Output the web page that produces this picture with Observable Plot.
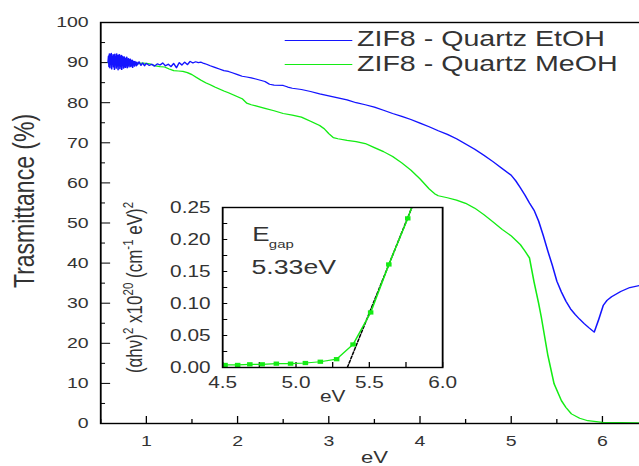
<!DOCTYPE html>
<html>
<head>
<meta charset="utf-8">
<script src="https://cdn.jsdelivr.net/npm/d3@7"></script>
<script src="https://cdn.jsdelivr.net/npm/@observablehq/plot@0.6"></script>
<style>
html, body { margin: 0; padding: 0; overflow: hidden; background: #fff; }
#stage { position: relative; width: 500px; height: 466px; transform: scaleX(1.3); transform-origin: 0 0;
  font-family: "Liberation Sans", Arial, Helvetica, sans-serif; color: #333; }
#stage > svg { position: absolute; overflow: visible; }
.legline { position: absolute; height: 0; }
.legtext { position: absolute; font-size: 22px; line-height: 1; white-space: nowrap; color: #333; }
</style>
</head>
<body>
<div id="stage"></div>
<script>
const FONT = '"Liberation Sans", Arial, Helvetica, sans-serif';

// ---- Main chart data (eV, Transmittance %) ----
const blueX = [0.580,0.585,0.590,0.595,0.600,0.605,0.610,0.615,0.620,0.625,0.630,0.635,0.640,0.645,0.650,0.655,0.660,0.665,0.670,0.675,
  0.680,0.685,0.690,0.695,0.700,0.705,0.710,0.715,0.720,0.725,0.730,0.735,0.740,0.745,0.750,0.755,0.760,0.765,0.770,0.775,
  0.780,0.785,0.790,0.795,0.800,0.805,0.810,0.815,0.820,0.825,0.830,0.835,0.840,0.845,0.850,0.855,0.860,0.865,0.870,0.875,
  0.880,0.885,0.890,0.895,0.900,
  0.92,0.94,0.96,0.98,1.00,
  1.03,1.06,1.09,1.12,1.15,1.18,1.21,1.24,1.27,1.30,1.33,1.36,1.39,1.42,1.45,1.48,1.51,1.54,1.57,1.60,1.63,1.66,
  1.70,1.75,1.80,1.85,1.90,1.95,2.00,2.05,2.10,2.15,2.20,2.25,2.30,2.35,
  2.40,2.50,2.55,2.60,
  2.70,2.80,2.90,3.00,3.10,3.20,3.30,3.40,3.50,3.60,3.70,3.80,3.90,4.00,4.10,4.20,4.30,4.40,4.50,4.60,4.70,4.80,4.90,5.00,
  5.05,5.10,
  5.15,5.20,5.25,5.30,5.35,5.40,5.45,5.50,5.55,5.60,5.65,5.70,5.75,5.80,5.85,
  5.91,5.96,6.01,6.05,6.10,6.20,6.30,6.41,6.50];
const blueY = [90.1,91.6,89.0,92.2,88.7,91.9,89.6,92.3,88.4,91.4,90.0,92.0,88.9,91.8,88.3,92.1,89.4,91.5,88.6,92.2,
  89.1,91.7,88.2,91.9,89.5,92.0,88.5,91.3,89.0,91.8,88.3,91.6,89.7,91.1,88.6,91.5,88.9,91.2,88.8,90.9,
  89.2,91.4,88.7,90.8,89.3,91.0,88.9,90.7,89.4,90.9,89.0,90.5,89.3,90.6,88.8,90.4,89.5,90.2,89.1,90.3,
  89.6,90.0,89.2,90.1,89.4,
  90.2,89.3,89.9,89.2,89.8,
  89.3,89.6,89.1,89.7,89.4,89.9,89.2,89.6,89.0,89.8,88.7,90.0,89.4,90.1,89.5,90.3,89.9,90.2,90.0,90.1,89.8,89.6,
  89.2,88.8,88.4,88.0,87.8,87.4,87.0,86.6,86.4,86.2,85.9,85.6,85.3,84.6,
  84.4,84.3,83.9,83.6,
  83.3,82.8,82.2,81.7,81.2,80.7,80.0,79.5,78.9,78.1,77.3,76.6,75.8,74.9,74.0,73.0,72.1,71.0,69.7,68.4,66.9,65.3,63.6,61.9,
  60.5,58.8,
  57.0,55.0,53.2,50.5,47.0,43.1,39.5,35.5,32.8,30.5,28.6,27.2,26.0,24.9,23.9,
  22.8,26.0,29.5,30.7,31.6,32.9,33.9,34.4,34.8];

const greenX = [0.58,0.62,0.66,0.70,
  0.75,0.80,0.85,0.90,0.95,1.00,1.05,1.10,1.15,1.20,1.25,1.30,1.35,1.40,1.45,1.50,1.55,1.60,1.65,1.70,1.75,1.80,1.85,1.90,1.95,2.00,2.05,2.10,2.15,2.20,
  2.30,2.40,2.50,2.60,2.70,2.80,2.90,
  2.95,3.00,3.05,3.10,
  3.20,3.30,3.40,3.50,3.60,3.70,3.80,3.90,4.00,4.10,
  4.16,
  4.20,4.30,4.40,4.50,4.60,4.70,4.80,4.90,5.00,5.10,
  5.15,5.20,5.25,5.30,5.33,
  5.40,5.47,5.55,5.60,5.66,5.75,5.84,
  6.00,6.20,6.50];
const greenY = [90.0,90.2,89.8,90.3,
  89.9,89.8,90.1,89.7,89.9,89.8,89.6,89.2,89.0,88.9,88.4,88.0,87.9,87.8,87.5,87.0,86.3,85.6,85.0,84.5,83.9,83.4,82.9,82.5,82.0,81.5,81.0,79.9,79.5,79.2,
  78.6,78.0,77.3,76.9,76.4,75.4,74.3,
  73.5,72.3,71.3,71.0,
  70.6,70.3,69.8,68.8,67.8,66.6,65.0,63.2,61.0,58.5,
  57.3,
  56.8,56.3,55.7,54.9,53.7,52.1,50.3,48.4,46.8,44.6,
  43.0,41.3,35.3,30.0,26.5,
  17.2,9.9,5.7,4.0,2.4,1.3,0.7,
  0.3,0.2,0.1];

const seriesNames = ["ZIF8 - Quartz EtOH", "ZIF8 - Quartz MeOH"];
const seriesColors = ["#1414ff", "#14ec14"];

const xTicks = [1, 2, 3, 4, 5, 6];
const xMinor = [0.5, 1.5, 2.5, 3.5, 4.5, 5.5, 6.5];
const yTicks = [0, 10, 20, 30, 40, 50, 60, 70, 80, 90, 100];
const yMinor = [5, 15, 25, 35, 45, 55, 65, 75, 85, 95];
const xTitle = "eV";
const yTitle = "Trasmittance (%)";

// ---- Inset data: (alpha h nu)^2 vs eV ----
const insetX = [4.516, 4.602, 4.685, 4.769, 4.866, 4.963, 5.064, 5.166, 5.277, 5.389, 5.509, 5.633, 5.762, 5.88];
const insetY = [0.004, 0.004, 0.005, 0.005, 0.006, 0.006, 0.007, 0.009, 0.013, 0.036, 0.086, 0.161, 0.233, 0.31];
const fitX = [5.35, 5.79];
const fitY = [0, 0.25];
const insetXTicks = [4.5, 5.0, 5.5, 6.0];
const insetXMinor = [4.75, 5.25, 5.75];
const insetYTicks = [0, 0.05, 0.10, 0.15, 0.20, 0.25];
const insetYMinor = [0.025, 0.075, 0.125, 0.175, 0.225];
const insetYLabelParts = [["(αhν)", 0], ["2", 1], [" x10", 0], ["20", 1], [" (cm", 0], ["-1", 1], [" eV)", 0], ["2", 1]];
const gapLabel = "E";
const gapSub = "gap";
const gapValue = "5.33eV";

const blue = d3.zip(blueX, blueY).map(([x, y]) => ({x, y}));
const green = d3.zip(greenX, greenY).map(([x, y]) => ({x, y}));
const pts = d3.zip(insetX, insetY).map(([x, y]) => ({x, y}));
const fit = d3.zip(fitX, fitY).map(([x, y]) => ({x, y}));

const stage = document.getElementById("stage");
const blank = () => "";

const main = Plot.plot({
  width: 500, height: 466,
  marginLeft: 77, marginRight: 2, marginTop: 22, marginBottom: 43,
  style: {fontFamily: FONT, fontSize: "15px", color: "#333", background: "transparent", overflow: "visible"},
  x: {domain: [0.5, 6.5]},
  y: {domain: [0, 100]},
  marks: [
    Plot.axisY(yTicks, {tickSize: 7.7, dx: 7.7, tickFormat: blank, stroke: "black", label: null}),
    Plot.axisY(yMinor, {tickSize: 3.8, dx: 3.8, tickFormat: blank, stroke: "black", label: null}),
    Plot.axisY(yTicks, {tickSize: 0, tickPadding: 9.3, fontSize: 15, fill: "#333", label: null}),
    Plot.axisX(xTicks, {tickSize: 7, dy: -7, tickFormat: blank, stroke: "black", label: null}),
    Plot.axisX(xMinor, {tickSize: 4, dy: -4, tickFormat: blank, stroke: "black", label: null}),
    Plot.axisX(xTicks, {tickSize: 0, tickPadding: 12, fontSize: 15, fill: "#333", label: null}),
    Plot.line(green, {x: "x", y: "y", stroke: seriesColors[1], strokeWidth: 1.2, clip: true}),
    Plot.line(blue, {x: "x", y: "y", stroke: seriesColors[0], strokeWidth: 1.2, clip: true}),
    Plot.frame({stroke: "black", strokeWidth: 1.4}),
    Plot.text([xTitle], {frameAnchor: "bottom", dy: 34, fontSize: 17, fill: "#333", textAnchor: "middle", lineAnchor: "middle"}),
    Plot.text([yTitle], {frameAnchor: "left", rotate: -90, dx: -59, dy: -22, fontSize: 23, fill: "#333", textAnchor: "middle", lineAnchor: "middle"})
  ]
});
main.style.left = "0px";
main.style.top = "0px";
stage.appendChild(main);

const INSET_PH = "INSET_Y_LABEL";
const inset = Plot.plot({
  width: 250, height: 220,
  marginLeft: 75.8, marginRight: 5, marginTop: 17, marginBottom: 43,
  style: {fontFamily: FONT, fontSize: "16px", color: "#333", background: "transparent", overflow: "visible"},
  x: {domain: [4.5, 6.0]},
  y: {domain: [0, 0.25]},
  marks: [
    Plot.axisY(insetYTicks, {tickSize: 4, dx: 4, tickFormat: blank, stroke: "black", label: null}),
    Plot.axisY(insetYMinor, {tickSize: 4, dx: 4, tickFormat: blank, stroke: "black", label: null}),
    Plot.axisY(insetYTicks, {tickSize: 0, tickPadding: 9.3, fontSize: 16, fill: "#333", tickFormat: d3.format(".2f"), label: null}),
    Plot.axisX(insetXTicks, {tickSize: 5, dy: -5, tickFormat: blank, stroke: "black", label: null}),
    Plot.axisX(insetXMinor, {tickSize: 5, dy: -5, tickFormat: blank, stroke: "black", label: null}),
    Plot.axisX(insetXTicks, {tickSize: 0, tickPadding: 9, fontSize: 16, fill: "#333", tickFormat: d3.format(".1f"), label: null}),
    Plot.line(fit, {x: "x", y: "y", stroke: "black", strokeWidth: 1.2, strokeDasharray: "3,1.5", clip: true}),
    Plot.line(pts, {x: "x", y: "y", stroke: seriesColors[1], strokeWidth: 1.2, clip: true}),
    Plot.dot(pts, {x: "x", y: "y", symbol: "square", r: 2.4, fill: seriesColors[1], stroke: "none", clip: true}),
    Plot.frame({stroke: "black", strokeWidth: 1.4}),
    Plot.text([xTitle], {frameAnchor: "bottom", dy: 29, fontSize: 16, fill: "#333", textAnchor: "middle", lineAnchor: "middle"}),
    Plot.text([gapLabel], {frameAnchor: "top-left", dx: 22.8, dy: 33.7, fontSize: 20, fill: "#333", textAnchor: "start", lineAnchor: "bottom"}),
    Plot.text([gapSub], {frameAnchor: "top-left", dx: 35.5, dy: 40.5, fontSize: 11.5, fill: "#333", textAnchor: "start", lineAnchor: "bottom"}),
    Plot.text([gapValue], {frameAnchor: "top-left", dx: 22.2, dy: 66.3, fontSize: 20.5, fill: "#333", textAnchor: "start", lineAnchor: "bottom"}),
    Plot.text([INSET_PH], {frameAnchor: "left", rotate: -90, dx: -67.8, fontSize: 17, fill: "#333", textAnchor: "middle", lineAnchor: "middle"})
  ]
});
inset.style.left = "95px";
inset.style.top = "190px";
stage.appendChild(inset);

// rebuild inset y-label with real superscripts
inset.querySelectorAll("text").forEach(t => {
  if (t.textContent === INSET_PH) {
    t.textContent = "";
    const ns = "http://www.w3.org/2000/svg";
    let raised = false;
    insetYLabelParts.forEach(([str, sup]) => {
      const ts = document.createElementNS(ns, "tspan");
      ts.textContent = str;
      if (sup) { ts.setAttribute("font-size", "11.5"); ts.setAttribute("dy", "-6.5"); raised = true; }
      else if (raised) { ts.setAttribute("dy", "6.5"); raised = false; }
      t.appendChild(ts);
    });
  }
});

// legend
const legTop = [39.5, 64];
const textTop = [28.2, 53.2];
seriesNames.forEach((name, i) => {
  const ln = document.createElement("div");
  ln.className = "legline";
  ln.style.left = "219px"; ln.style.width = "52px"; ln.style.top = legTop[i] + "px";
  ln.style.borderTop = `1.2px solid ${seriesColors[i]}`;
  stage.appendChild(ln);
  const tx = document.createElement("div");
  tx.className = "legtext";
  tx.style.left = "274.6px"; tx.style.top = textTop[i] + "px";
  tx.textContent = name;
  stage.appendChild(tx);
});
</script>
</body>
</html>
